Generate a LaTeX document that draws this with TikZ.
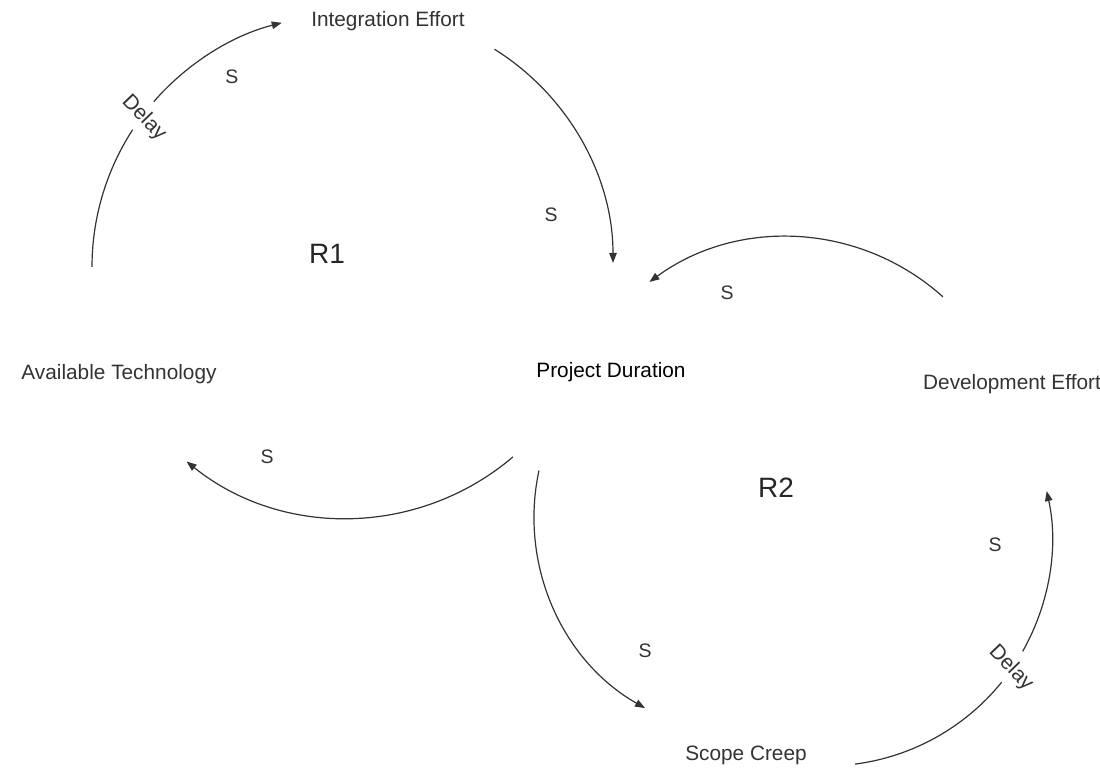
\documentclass[tikz,border=0pt]{standalone}
\usepackage{fontspec}
\setmainfont{Liberation Sans}
\usetikzlibrary{arrows.meta,calc}
\begin{document}
\begin{tikzpicture}[x=1pt,y=1pt,
  lbl/.style={font=\fontsize{20.8}{24}\selectfont, text=black!80, inner sep=0pt},
  mainlbl/.style={font=\fontsize{20.8}{24}\selectfont, text=black, inner sep=0pt},
  sgn/.style={font=\fontsize{19.5}{23}\selectfont, text=black!80, inner sep=0pt},
  loopname/.style={font=\fontsize{28}{32}\selectfont, text=black!85, inner sep=0pt},
  delaylbl/.style={font=\fontsize{21}{25}\selectfont, text=black!80, inner sep=0pt, rotate=-46},
  link/.style={line width=1.2pt, draw=black!80},
  arr/.style={link, -{Triangle[length=10pt,width=7.5pt]}}]
\useasboundingbox (0,0) rectangle (1100,770);

% variables
\node[lbl, anchor=base] (ie) at (388,743) {Integration Effort};
\node[lbl, anchor=base] (at) at (119,390) {Available Technology};
\node[mainlbl, anchor=base] (pd) at (611,392) {Project Duration};
\node[lbl, anchor=base] (de) at (1012,380) {Development Effort};
\node[lbl, anchor=base] (sc) at (746,9) {Scope Creep};

% loop names
\node[loopname, anchor=base] (r1) at (327,506) {R1};
\node[loopname, anchor=base] (r2) at (776,272) {R2};

% loop centres
\coordinate (c1a) at (344,503);
\coordinate (c1b) at (361,507);
\coordinate (c1c) at (347,508);
\coordinate (c2a) at (787,300);
\coordinate (c2b) at (754,253);
\coordinate (c2c) at (826,230);

% Available Technology -> Integration Effort (delay)
\draw[link] ($(c1a)+(180:252)$) arc[start angle=180,end angle=147,radius=252];
\draw[arr] ($(c1a)+(139:252)$) arc[start angle=139,end angle=104.3,radius=252];
\node[delaylbl] (d1) at (144,652) {Delay};

% Integration Effort -> Project Duration
\draw[arr] ($(c1b)+(58:252)$) arc[start angle=58,end angle=0,radius=252];

% Project Duration -> Available Technology
\draw[arr] ($(c1c)+(-49.6:256)$) arc[start angle=-49.6,end angle=-128.8,radius=256];

% Development Effort -> Project Duration
\draw[arr] ($(c2a)+(48:233)$) arc[start angle=48,end angle=126.2,radius=233];

% Project Duration -> Scope Creep
\draw[arr] ($(c2b)+(167.8:220)$) arc[start angle=167.8,end angle=240.3,radius=220];

% Scope Creep -> Development Effort (delay)
\draw[link] ($(c2c)+(-82.6:226)$) arc[start angle=-82.6,end angle=-39,radius=226];
\draw[arr] ($(c2c)+(-29.5:226)$) arc[start angle=-29.5,end angle=12.5,radius=226];
\node[delaylbl] (d2) at (1011,102) {Delay};

% polarity signs
\node[sgn] (s1) at (232,693) {S};
\node[sgn] (s2) at (551,555) {S};
\node[sgn] (s3) at (727,477) {S};
\node[sgn] (s4) at (267,313) {S};
\node[sgn] (s5) at (645,119) {S};
\node[sgn] (s6) at (995,225) {S};
\end{tikzpicture}
\end{document}
